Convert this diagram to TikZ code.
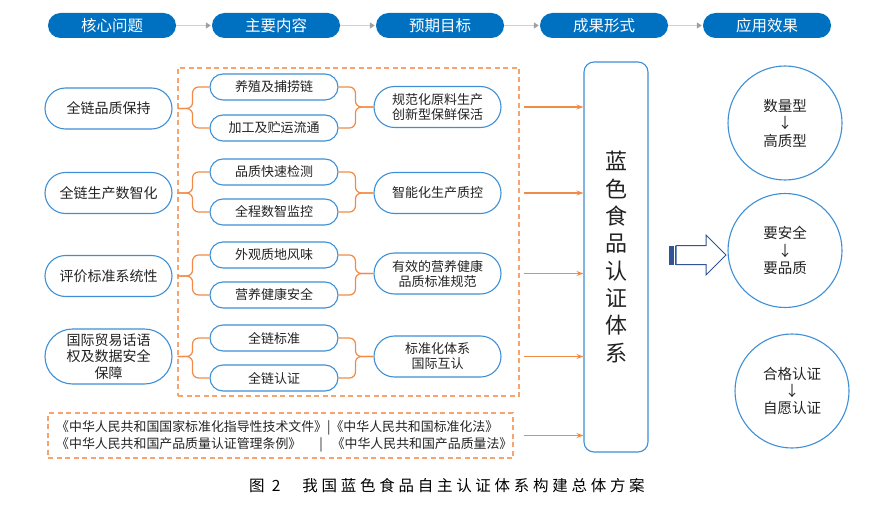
\documentclass[tikz,border=0pt]{standalone}
\usepackage{fontspec}
\setmainfont{Noto Sans CJK SC}
\usetikzlibrary{shapes.misc,arrows.meta,calc}
\definecolor{hdr}{HTML}{0070C0}
\definecolor{nblue}{HTML}{3D8FD6}
\definecolor{dorange}{HTML}{F5A46E}
\definecolor{borange}{HTML}{F28A48}
\definecolor{cgray}{HTML}{D0D0D0}
\definecolor{hgray}{HTML}{A0A0A0}
\definecolor{darrow}{HTML}{2F5597}
\definecolor{txt}{HTML}{222222}
\begin{document}
\begin{tikzpicture}[x=1pt,y=-1pt,
  every node/.style={text=txt},
  hdrpill/.style={rounded rectangle, fill=hdr, text=white, minimum width=128pt, minimum height=25pt, inner sep=0pt, font=\fontsize{15.5}{15.5}\selectfont},
  hline/.style={draw=cgray, line width=1.6pt, -{Triangle[length=5pt,width=6pt,color=hgray]}, shorten >=1pt},
  lnode/.style={rounded rectangle, draw=nblue, line width=1.1pt, minimum width=129pt, minimum height=41pt, inner sep=1pt, align=center, font=\fontsize{14}{16.5}\selectfont},
  mnode/.style={rounded rectangle, draw=nblue, line width=1.1pt, minimum width=128pt, minimum height=26pt, inner sep=0pt, font=\fontsize{13}{13}\selectfont},
  rnode/.style={rounded rectangle, draw=nblue, line width=1.1pt, minimum width=129pt, minimum height=41pt, inner sep=1pt, align=center, font=\fontsize{13}{15}\selectfont},
  brc/.style={draw=borange, line width=1.2pt, rounded corners=6pt},
  dbox/.style={draw=dorange, line width=1.2pt, dash pattern=on 5pt off 3.5pt, inner sep=0pt},
  oarr/.style={draw=borange, line width=1.3pt, -{Stealth[length=7pt,width=5pt]}},
  circ/.style={circle, draw=nblue, line width=1.1pt, minimum size=114pt, inner sep=0pt, align=center, font=\fontsize{14.5}{17.5}\selectfont}
]
\useasboundingbox (0,0) rectangle (882,505);

% header
\node[hdrpill] (h1) at (112,25.5) {核心问题};
\node[hdrpill] (h2) at (276,25.5) {主要内容};
\node[hdrpill] (h3) at (440,25.5) {预期目标};
\node[hdrpill] (h4) at (604,25.5) {成果形式};
\node[hdrpill] (h5) at (767,25.5) {应用效果};
\draw[hline] (h1.east) -- (h2.west);
\draw[hline] (h2.east) -- (h3.west);
\draw[hline] (h3.east) -- (h4.west);
\draw[hline] (h4.east) -- (h5.west);

% dashed box
\node[dbox, minimum width=341pt, minimum height=328pt] (db) at (348.5,232) {};

% left nodes
\node[lnode] (L1) at (108.5,108.5) {全链品质保持};
\node[lnode] (L2) at (108.5,193) {全链生产数智化};
\node[lnode] (L3) at (108.5,276) {评价标准系统性};
\node[lnode, minimum height=55pt] (L4) at (108.5,356.5) {国际贸易话语\\权及数据安全\\保障};

% middle pills
\node[mnode] (m1) at (274,87) {养殖及捕捞链};
\node[mnode] (m2) at (274,128) {加工及贮运流通};
\node[mnode] (m3) at (274,172) {品质快速检测};
\node[mnode] (m4) at (274,212) {全程数智监控};
\node[mnode] (m5) at (274,255) {外观质地风味};
\node[mnode] (m6) at (274,295) {营养健康安全};
\node[mnode] (m7) at (274,338) {全链标准};
\node[mnode] (m8) at (274,378) {全链认证};

% right nodes
\node[rnode] (R1) at (437.5,107) {规范化原料生产\\创新型保鲜保活};
\node[rnode] (R2) at (437.5,193) {智能化生产质控};
\node[rnode] (R3) at (437.5,273.5) {有效的营养健康\\品质标准规范};
\node[rnode] (R4) at (437.5,356.5) {标准化体系\\国际互认};

% braces
\foreach \a/\b/\l/\r in {m1/m2/L1/R1, m3/m4/L2/R2, m5/m6/L3/R3, m7/m8/L4/R4}{
  \draw[brc] (\a.west) -| ([xshift=20pt]\l.east) -- ([xshift=5pt]\l.east);
  \draw[brc] (\b.west) -| ([xshift=20pt]\l.east) -- ([xshift=5pt]\l.east);
  \draw[brc] (\a.east) -| ([xshift=-18pt]\r.west) -- (\r.west);
  \draw[brc] (\b.east) -| ([xshift=-18pt]\r.west) -- (\r.west);
}

% law box
\node[dbox, minimum width=465pt, minimum height=45pt] (law) at (280.5,435.5) {};
\node[anchor=west, align=left, inner sep=0pt, font=\fontsize{12.9}{16.5}\selectfont] (lawtxt) at (56,436.5)
 {《中华人民共和国国家标准化指导性技术文件》|《中华人民共和国标准化法》\\
  《中华人民共和国产品质量认证管理条例》\hspace{18pt}|\hspace{9pt}《中华人民共和国产品质量法》};

% big box
\node[draw=nblue, line width=1.1pt, rounded corners=10pt, minimum width=64pt, minimum height=390pt, inner sep=0pt,
      align=center, font=\fontsize{22}{27.3}\selectfont] (B) at (616,257) {蓝\\色\\食\\品\\认\\证\\体\\系};

% orange arrows
\foreach \r in {R1,R2,R3,R4}{
  \draw[oarr] ([xshift=4pt]db.east |- \r.west) -- (B.west |- \r.west);
}
\draw[oarr] ([xshift=10pt]law.east) -- (B.west |- law.east);

% circles
\node[circ] (c1) at (785,123) {数量型\\↓\\高质型};
\node[circ] (c2) at (785,250.5) {要安全\\↓\\要品质};
\node[circ] (c3) at (792,391) {合格认证\\↓\\自愿认证};

% hollow arrow
\draw[darrow, line width=1pt, fill=white] (676,245.5) -- (706,245.5) -- (706,235) -- (726,255) -- (706,275) -- (706,264.5) -- (676,264.5) -- cycle;
\fill[darrow] (669,245.5) rectangle (673.5,264.5);
\draw[darrow, line width=0.8pt] (675.5,245.5) -- (675.5,264.5);

% caption
\node[anchor=west, inner sep=0pt, text=black, font=\fontsize{15.5}{15.5}\selectfont\addfontfeatures{LetterSpace=24}] (cap) at (249,486)
 {图 2\hspace{22pt}我国蓝色食品自主认证体系构建总体方案};
\end{tikzpicture}
\end{document}
